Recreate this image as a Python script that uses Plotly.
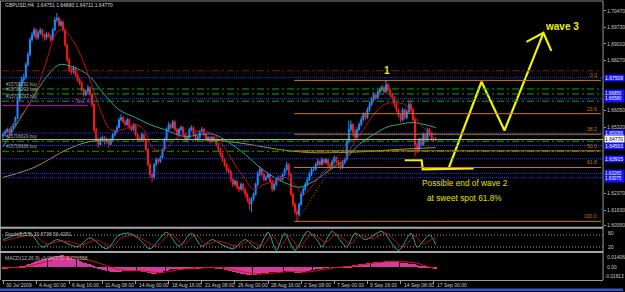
import plotly.graph_objects as go

# ---------------- data (prices in 1/10000 above 1.0000) ----------------
bar_idx = list(range(210))

opens_p = [6490,6499,6512,6521,6508,6530,6543,6574,6654,6720,
6742,6751,6808,6853,6919,6941,6963,6928,6950,6963,
6941,6928,6946,6937,6919,6963,7007,7016,6985,6998,
6963,6897,6830,6786,6777,6795,6764,6742,6729,6698,
6676,6689,6707,6676,6632,6521,6477,6455,6477,6486,
6468,6477,6455,6477,6499,6512,6530,6565,6574,6556,
6543,6565,6530,6521,6543,6499,6477,6477,6499,6477,
6433,6366,6322,6309,6366,6388,6380,6397,6433,6477,
6521,6543,6530,6556,6521,6499,6521,6530,6499,6477,
6486,6521,6530,6499,6477,6486,6512,6521,6499,6477,
6486,6468,6486,6477,6455,6433,6411,6388,6366,6344,
6335,6300,6278,6291,6265,6256,6278,6256,6234,6212,
6190,6212,6234,6278,6322,6344,6322,6300,6309,6322,
6291,6256,6278,6300,6309,6300,6322,6344,6366,6322,
6234,6190,6158,6145,6190,6234,6256,6278,6300,6322,
6344,6344,6366,6380,6366,6388,6375,6388,6366,6353,
6380,6397,6380,6366,6353,6375,6388,6468,6521,6543,
6512,6486,6521,6543,6565,6587,6574,6609,6632,6654,
6676,6663,6689,6698,6707,6689,6720,6698,6676,6663,
6632,6609,6587,6565,6609,6574,6600,6632,6609,6565,
6455,6433,6477,6455,6499,6477,6521,6499,6477,6475]

highs_p = [6510,6520,6530,6528,6538,6552,6580,6662,6732,6756,
6768,6820,6866,6930,6955,6975,6970,6960,6972,6968,
6948,6955,6952,6942,6972,7020,7038,7022,7010,7005,
6970,6902,6838,6798,6805,6800,6772,6750,6735,6705,
6700,6720,6712,6682,6640,6530,6486,6488,6495,6492,
6485,6482,6485,6506,6520,6540,6575,6590,6580,6562,
6572,6570,6538,6550,6548,6505,6488,6508,6505,6482,
6440,6372,6330,6372,6398,6395,6405,6440,6485,6530,
6555,6550,6565,6562,6528,6530,6540,6536,6505,6495,
6530,6540,6535,6505,6494,6520,6532,6528,6506,6494,
6492,6494,6492,6482,6462,6440,6418,6395,6372,6352,
6342,6308,6300,6298,6272,6288,6284,6262,6240,6220,
6222,6242,6286,6335,6360,6350,6328,6318,6332,6328,
6298,6286,6308,6318,6316,6330,6352,6378,6372,6330,
6242,6198,6168,6198,6242,6265,6288,6310,6332,6352,
6358,6375,6392,6388,6398,6395,6396,6392,6372,6388,
6408,6402,6386,6372,6384,6396,6476,6560,6562,6550,
6520,6530,6552,6578,6598,6595,6620,6645,6665,6688,
6684,6700,6710,6718,6714,6738,6728,6705,6684,6670,
6640,6615,6594,6618,6615,6610,6650,6654,6618,6572,
6465,6486,6484,6508,6505,6530,6528,6506,6486,6488]

lows_p = [6482,6492,6505,6500,6503,6524,6538,6568,6648,6710,
6730,6745,6800,6845,6910,6930,6918,6920,6942,6930,
6915,6920,6928,6908,6914,6958,6998,6978,6975,6955,
6888,6820,6775,6765,6770,6755,6732,6718,6688,6665,
6670,6682,6668,6620,6508,6465,6440,6448,6470,6455,
6460,6440,6448,6470,6492,6505,6525,6558,6548,6535,
6538,6522,6512,6515,6490,6466,6468,6470,6465,6420,
6355,6305,6287,6300,6358,6370,6372,6390,6425,6470,
6515,6522,6525,6512,6490,6492,6515,6490,6468,6470,
6480,6515,6490,6468,6470,6480,6506,6490,6468,6470,
6458,6462,6468,6446,6422,6400,6378,6355,6332,6322,
6288,6265,6270,6255,6244,6250,6245,6222,6198,6165,
6154,6205,6228,6270,6315,6312,6290,6292,6302,6282,
6244,6248,6270,6294,6290,6294,6315,6338,6312,6225,
6178,6145,6114,6135,6182,6226,6248,6270,6294,6315,
6335,6338,6360,6358,6360,6366,6368,6355,6342,6348,
6372,6370,6355,6342,6346,6368,6382,6460,6512,6490,
6470,6480,6515,6536,6556,6562,6568,6600,6625,6646,
6652,6656,6680,6690,6680,6682,6688,6665,6652,6620,
6598,6575,6552,6558,6565,6566,6594,6600,6555,6402,
6415,6425,6444,6448,6468,6470,6490,6468,6466,6471]

closes_p = [6499,6512,6521,6508,6530,6543,6574,6654,6720,6742,
6751,6808,6853,6919,6941,6963,6928,6950,6963,6941,
6928,6946,6937,6919,6963,7007,7016,6985,6998,6963,
6897,6830,6786,6777,6795,6764,6742,6729,6698,6676,
6689,6707,6676,6632,6521,6477,6455,6477,6486,6468,
6477,6455,6477,6499,6512,6530,6565,6574,6556,6543,
6565,6530,6521,6543,6499,6477,6477,6499,6477,6433,
6366,6322,6309,6366,6388,6380,6397,6433,6477,6521,
6543,6530,6556,6521,6499,6521,6530,6499,6477,6486,
6521,6530,6499,6477,6486,6512,6521,6499,6477,6486,
6468,6486,6477,6455,6433,6411,6388,6366,6344,6335,
6300,6278,6291,6265,6256,6278,6256,6234,6212,6190,
6212,6234,6278,6322,6344,6322,6300,6309,6322,6291,
6256,6278,6300,6309,6300,6322,6344,6366,6322,6234,
6190,6158,6145,6190,6234,6256,6278,6300,6322,6344,
6344,6366,6380,6366,6388,6375,6388,6366,6353,6380,
6397,6380,6366,6353,6375,6388,6468,6521,6543,6512,
6486,6521,6543,6565,6587,6574,6609,6632,6654,6676,
6663,6689,6698,6707,6689,6720,6698,6676,6663,6632,
6609,6587,6565,6609,6574,6600,6632,6609,6565,6455,
6433,6477,6455,6499,6477,6521,6499,6477,6475,6477]

# moving averages (bar index, price code)
ma_fast_x = [0,14,20,26,29,35,42,47,52,58,64,68,73,78,83,90,97,102,107,112,117,121,126,131,136,141,145,150,155,160,165,169,174,179,184,189,194,198,203,209]
ma_fast_p = [6486,6654,6795,6954,6963,6897,6742,6609,6521,6521,6543,6521,6433,6433,6477,6508,6512,6499,6441,6366,6300,6256,6278,6291,6309,6278,6234,6278,6335,6366,6388,6455,6521,6587,6632,6640,6632,6587,6530,6499]
ma_mid_x = [0,8,14,20,27,32,37,42,49,56,64,71,78,88,95,102,109,117,124,131,138,143,150,158,165,172,179,186,191,198,209]
ma_mid_p = [6446,6565,6654,6742,6808,6804,6786,6755,6676,6609,6574,6543,6521,6490,6499,6499,6464,6411,6353,6309,6278,6265,6291,6344,6388,6455,6499,6534,6543,6552,6530]
ma_slow_x = [0,15,31,42,60,76,90,105,119,133,148,162,177,191,209]
ma_slow_p = [6309,6353,6433,6468,6477,6477,6477,6472,6455,6433,6419,6419,6424,6433,6441]

# stochastic (5,3,3)
stoch_x = [0,6,13,19,26,30,36,42,50,56,61,66,71,79,85,91,96,101,106,111,117,123,128,132,136,141,147,152,154,159,166,170,175,183,191,197,200,206,209]
stoch_main = [57,80,89,20,57,43,20,66,11,80,89,57,11,94,24,89,24,57,30,11,57,11,94,3,89,3,98,50,20,98,20,89,57,98,3,89,20,80,31]
stoch_sig_x = [0,8,15,21,28,33,38,45,52,58,63,68,74,81,87,93,98,104,113,119,125,130,134,138,143,149,156,161,168,172,178,185,193,199,203,208,209]
stoch_sig = [50,70,80,35,50,45,30,55,25,70,80,55,25,85,35,80,35,50,25,50,25,80,25,75,20,85,45,85,35,80,60,90,20,75,35,65,56]

# MACD(12,26,9) in 1/10000
macd_main = [-8,-7,-6,-5,-4,-2,0,3,7,12,
17,23,30,38,46,54,62,68,75,81,
86,90,95,100,105,110,115,119,122,122,
118,110,100,90,82,76,70,63,56,49,
43,37,31,24,14,4,-6,-14,-22,-28,
-33,-38,-42,-44,-45,-45,-44,-42,-40,-38,
-36,-35,-34,-34,-36,-38,-40,-42,-44,-48,
-54,-60,-64,-64,-62,-58,-54,-48,-40,-32,
-25,-20,-16,-14,-13,-13,-12,-12,-12,-12,
-10,-8,-8,-8,-8,-6,-4,-3,-3,-3,
-3,-3,-4,-6,-9,-13,-18,-23,-28,-33,
-39,-45,-50,-55,-59,-63,-66,-69,-72,-75,
-76,-76,-74,-70,-65,-60,-57,-54,-51,-50,
-50,-50,-49,-48,-46,-43,-40,-37,-37,-42,
-48,-54,-58,-58,-55,-50,-45,-40,-35,-30,
-25,-20,-16,-12,-8,-5,-3,-1,0,1,
2,3,4,4,4,5,9,14,19,22,
24,27,30,33,36,39,42,45,48,51,
53,55,57,58,59,60,60,59,57,55,
53,50,47,44,42,40,39,38,36,30,
24,19,15,11,7,4,1,-3,-8,-14]
macd_sig_x = [0,4,8,12,16,20,24,28,32,36,40,44,48,52,56,60,64,68,72,76,80,84,88,92,96,100,104,108,112,116,120,124,128,132,136,140,144,148,152,156,160,164,168,172,176,180,184,188,192,196,200,204,208]
macd_sig = [-6,-6,-3,8,28,50,72,92,104,98,78,55,28,0,-25,-36,-36,-40,-50,-56,-45,-30,-18,-12,-8,-5,-5,-14,-30,-48,-62,-70,-64,-56,-48,-44,-50,-48,-36,-20,-6,2,8,18,30,42,52,57,56,50,40,12,-10]

# axis ticks (labels that the reference shows uncovered)
tick_idx = [0,16,32,48,64,80,96,112,128,144,160,176,192,208]
tick_text = ["30 Jul 2009","4 Aug 00:00","6 Aug 16:00","11 Aug 08:00","14 Aug 00:00","18 Aug 16:00",
             "21 Aug 08:00","26 Aug 00:00","28 Aug 16:00","2 Sep 08:00","7 Sep 00:00","9 Sep 16:00",
             "14 Sep 08:00","17 Sep 00:00"]
price_ticks = [1.70470,1.69730,1.69010,1.68270,1.66050,1.65320,1.62370,1.61630,1.60950]

# chart objects
blue_levels = [1.67509, 1.66580, 1.65056, 1.64503, 1.63915, 1.63265, 1.63075]
blue_box_single = [1.67509, 1.65056, 1.64503, 1.63915]
blue_box_pairs = [(1.66850, 1.66580), (1.63265, 1.63075)]
green_levels = [1.67010, 1.66789, 1.66470, 1.64692, 1.64250]
order_labels = ["#15706291 buy", "#15706292 buy", "#15706293 buy", "#15706629 buy", "#15706688 buy"]
red_level = 1.67818
magenta_level = 1.66271
bid = 1.64770
fib_levels = [1.67390, 1.65915, 1.65003, 1.64265, 1.63528, 1.61140]
fib_names = ["0.0", "23.6", "38.2", "50.0", "61.8", "100.0"]
fib_anchor_x = [142, 185]
fib_anchor_y = [1.61140, 1.67390]
wave2_x = [194.0, 202.2, 202.7, 227.3]
wave2_y = [1.6385, 1.6385, 1.6344, 1.6349]
wave3_x = [215.2, 231.1, 242.2, 261.0]
wave3_y = [1.6349, 1.6733, 1.6517, 1.6950]
arrow_x = [252.8, 261.0, 264.8]
arrow_y = [1.6910, 1.6950, 1.6870]

def P(v):
    return 1 + v / 10000.0

opens = [P(v) for v in opens_p]
highs = [P(v) for v in highs_p]
lows = [P(v) for v in lows_p]
closes = [P(v) for v in closes_p]

W, H = 625, 292
def px(x): return x / W
def py(y): return 1 - y / H

FONT = "Liberation Sans, Arial, sans-serif"
fig = go.Figure()

fig.add_trace(go.Candlestick(
    x=bar_idx, open=opens, high=highs, low=lows, close=closes,
    increasing=dict(line=dict(color="#1e8cff", width=1), fillcolor="#1e8cff"),
    decreasing=dict(line=dict(color="#ff1a1a", width=1), fillcolor="#ff1a1a"),
    whiskerwidth=0, hoverinfo="skip", xaxis="x", yaxis="y"))

for xs, ps, col in [(ma_slow_x, ma_slow_p, "#a39434"), (ma_mid_x, ma_mid_p, "#2fa894"), (ma_fast_x, ma_fast_p, "#c01010")]:
    fig.add_trace(go.Scatter(x=xs, y=[P(v) for v in ps], mode="lines",
                             line=dict(color=col, width=1, shape="spline", smoothing=1.0),
                             hoverinfo="skip", xaxis="x", yaxis="y"))

# fib diagonal
fig.add_trace(go.Scatter(x=fib_anchor_x, y=fib_anchor_y, mode="lines",
                         line=dict(color="#c0601c", width=1, dash="1px,2px"), hoverinfo="skip"))

# stochastic
fig.add_trace(go.Scatter(x=stoch_x, y=stoch_main, mode="lines", line=dict(color="#2fa894", width=1, shape="spline", smoothing=0.8),
                         hoverinfo="skip", xaxis="x", yaxis="y2"))
fig.add_trace(go.Scatter(x=stoch_sig_x, y=stoch_sig, mode="lines", line=dict(color="#c01010", width=1, shape="spline", smoothing=0.8),
                         hoverinfo="skip", xaxis="x", yaxis="y2"))

# MACD
fig.add_trace(go.Bar(x=bar_idx, y=[v / 10000.0 for v in macd_main], marker=dict(color="#d23a9e", line=dict(width=0)),
                     width=0.55, hoverinfo="skip", xaxis="x", yaxis="y3"))
fig.add_trace(go.Scatter(x=macd_sig_x, y=[v / 10000.0 for v in macd_sig], mode="lines",
                         line=dict(color="#e01010", width=1, shape="spline"), hoverinfo="skip", xaxis="x", yaxis="y3"))

# yellow wave drawing
for xs, ys, w in [(wave2_x, wave2_y, 2.2), (wave3_x, wave3_y, 2.2), (arrow_x, arrow_y, 2.2)]:
    fig.add_trace(go.Scatter(x=xs, y=ys, mode="lines", line=dict(color="#f2f200", width=w),
                             hoverinfo="skip", xaxis="x", yaxis="y"))

shapes = []
def hline(level, color, dash, x0=0, x1=1, xref="x domain", width=1):
    shapes.append(dict(type="line", xref=xref, yref="y", x0=x0, x1=x1, y0=level, y1=level,
                       line=dict(color=color, width=width, dash=dash)))

hline(red_level, "#9a0c0c", "7px,3px,2px,3px")
for lv in green_levels:
    hline(lv, "#17a317", "7px,3px,2px,3px")
for lv in blue_levels:
    hline(lv, "#1f3cff", "1px,1px")
hline(bid, "#b8b8b8", "solid")
hline(magenta_level, "#c010c0", "solid", x0=-0.5, x1=41, xref="x")
for lv in fib_levels:
    hline(lv, "#c97a1c", "solid", x0=140.6, x1=288.8, xref="x")

# stoch levels
for lv in [80, 20]:
    shapes.append(dict(type="line", xref="x domain", yref="y2", x0=0, x1=1, y0=lv, y1=lv,
                       line=dict(color="#a0a0a0", width=1, dash="1px,2px")))

# frame
shapes += [
    dict(type="line", xref="paper", yref="paper", x0=0, x1=px(605), y0=py(1), y1=py(1), line=dict(color="#8a8a8a", width=1)),
    dict(type="line", xref="paper", yref="paper", x0=px(0.5), x1=px(0.5), y0=py(281), y1=py(1), line=dict(color="#8a8a8a", width=1)),
    dict(type="line", xref="paper", yref="paper", x0=px(605), x1=px(605), y0=py(281), y1=py(1), line=dict(color="#9a9a9a", width=1)),
    dict(type="line", xref="paper", yref="paper", x0=0, x1=px(605), y0=py(228.5), y1=py(228.5), line=dict(color="#a8a8a8", width=2)),
    dict(type="line", xref="paper", yref="paper", x0=0, x1=px(605), y0=py(252.8), y1=py(252.8), line=dict(color="#a8a8a8", width=2)),
    dict(type="rect", xref="paper", yref="paper", x0=0, x1=1, y0=0, y1=py(289.5), fillcolor="#2c5ad0", line=dict(width=0)),
]

ann = []
def text(x, y, t, size=5, color="#c8c8c8", xanchor="left", yanchor="middle", xref="paper", yref="paper", bold=False, **kw):
    d = dict(x=x, y=y, xref=xref, yref=yref, text=("<b>%s</b>" % t) if bold else t, showarrow=False,
             xanchor=xanchor, yanchor=yanchor, font=dict(family=FONT, size=size, color=color))
    d.update(kw)
    ann.append(d)

text(px(3), py(5), "GBPUSD,H4  1.64751 1.64880 1.64711 1.64770", size=5, color="#d8d8d8")
for lv, lab in zip(green_levels, order_labels):
    text(px(4), lv, lab, size=4.5, color="#a8a8a8", yref="y", yanchor="bottom")
text(px(73), magenta_level, "TL 2.40", size=5, color="#d020d0", yref="y", yanchor="bottom")
for lv, nm in zip(fib_levels, fib_names):
    text(px(601), lv, nm, size=5, color="#c97a1c", yref="y", xanchor="right", yanchor="bottom")
for lv in blue_box_single:
    text(px(606), lv, "%.5f" % lv, size=5, color="#ffffff", yref="y", bgcolor="#1414ff", width=19, height=6,
         borderpad=0, align="left")
for a, b in blue_box_pairs:
    text(px(606), (a + b) / 2, "%.5f<br>%.5f" % (a, b), size=4.5, color="#ffffff", yref="y", bgcolor="#1414ff",
         width=19, height=12, borderpad=0, align="left")
text(px(606), bid, "%.5f" % bid, size=5, color="#000000", yref="y", bgcolor="#ffffff", width=19, height=6,
     borderpad=0, align="left")

text(185.4, 1.6782, "1", size=10, color="#e8e800", xref="x", yref="y", xanchor="center", bold=True)
text(270.1, 1.6976, "wave 3", size=10, color="#f0f000", xref="x", yref="y", xanchor="center", bold=True)
text(222.9, 1.62837, "Possible end of wave 2", size=8.3, color="#e0e000", xref="x", yref="y", xanchor="center")
text(222.9, 1.62170, "at sweet spot 61.8%", size=8.3, color="#e0e000", xref="x", yref="y", xanchor="center")

text(px(3), py(235), "Stoch(5,3,3) 30.8798 56.4281", size=5, color="#b8b8b8")
text(px(3), py(258.5), "MACD(12,26,9) -0.001379 -0.001558", size=5, color="#b8b8b8")
text(px(608), py(233.5), "80", size=5, color="#c8c8c8")
text(px(608), py(248), "20", size=5, color="#c8c8c8")
text(px(607), py(257.5), "0.01406", size=5, color="#c8c8c8")
text(px(607), py(268), "0.00", size=5, color="#c8c8c8")
text(px(605), py(277), "-0.01813", size=4.7, color="#c8c8c8")

for ti, tt in zip(tick_idx, tick_text):
    text(ti, py(285.5), tt, size=5, color="#c8c8c8", xref="x", xshift=1)

fig.update_layout(
    width=W, height=H, margin=dict(l=0, r=0, t=0, b=0),
    paper_bgcolor="black", plot_bgcolor="black", showlegend=False,
    font=dict(family=FONT, size=5, color="#c8c8c8"),
    bargap=0,
    shapes=shapes, annotations=ann,
    xaxis=dict(domain=[px(2), px(605)], range=[-0.5, 289.8], anchor="y3", showgrid=False, zeroline=False,
               showline=True, linecolor="#9a9a9a", linewidth=1, ticks="outside", ticklen=3, tickcolor="#9a9a9a",
               tickvals=tick_idx, showticklabels=False, rangeslider=dict(visible=False), fixedrange=True),
    yaxis=dict(domain=[py(228), py(2)], range=[1.60879, 1.70868], side="right", anchor="x", showgrid=False,
               zeroline=False, showline=False, ticks="outside", ticklen=2, tickcolor="#9a9a9a",
               tickvals=price_ticks, ticktext=["%.5f" % v for v in price_ticks],
               tickfont=dict(family=FONT, size=5, color="#c8c8c8")),
    yaxis2=dict(domain=[py(252), py(229.5)], range=[-1, 112], anchor="x", showgrid=False, zeroline=False,
                showticklabels=False),
    yaxis3=dict(domain=[py(281), py(253.5)], range=[-0.013, 0.0145], anchor="x", showgrid=False, zeroline=False,
                showticklabels=False),
)

fig.write_html("out.html")
